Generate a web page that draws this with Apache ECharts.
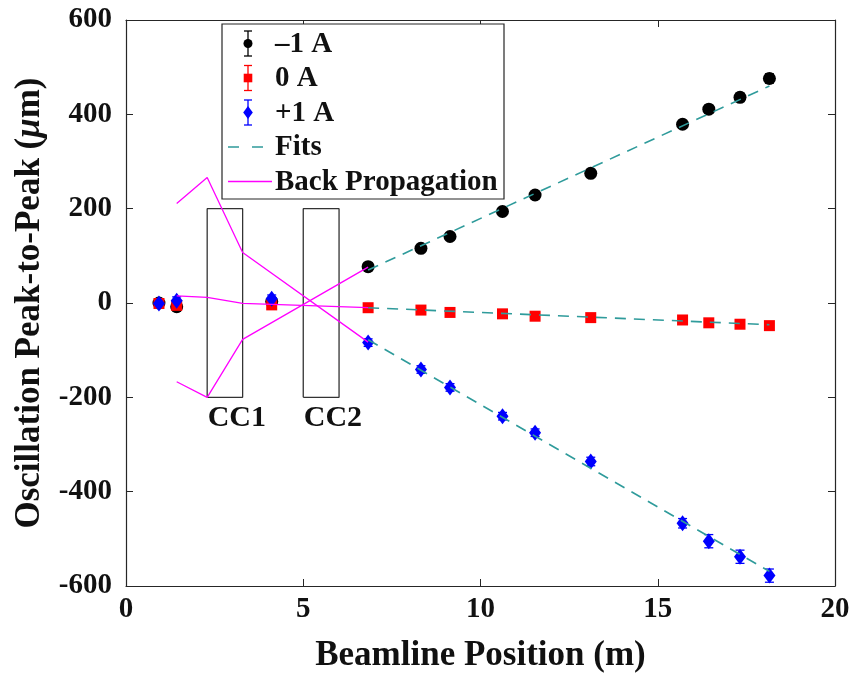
<!DOCTYPE html>
<html>
<head>
<meta charset="utf-8">
<script src="https://cdn.jsdelivr.net/npm/echarts@6/dist/echarts.min.js"></script>
<style>html,body{margin:0;padding:0;background:#fff;}#c{width:865px;height:674px;}</style>
</head>
<body>
<div id="c"></div>
<script>
// ---- data ----
const positions = [0.93, 1.43, 4.11, 6.83, 8.32, 9.14, 10.62, 11.54, 13.11, 15.70, 16.44, 17.32, 18.15];
const minus1 = [0, -8, 3, 77, 116, 141, 194, 229, 275, 379, 411, 436, 476];
const minus1Err = [5, 5, 5, 5, 5, 5, 5, 5, 5, 8, 8, 9, 10];
const zeroA = [-1, -5, -4, -10, -15, -20, -23, -28, -31, -36, -42, -45, -48];
const zeroErr = [3, 3, 3, 3, 3, 3, 3, 3, 3, 4, 4, 4, 4];
const plus1 = [-1, 5, 9, -84, -141, -179, -240, -275, -336, -467, -505, -538, -578];
const plus1Err = [5, 8, 8, 8, 8, 8, 8, 8, 9, 10, 14, 14, 14];

const fitX = [6.83, 18.15];
const fitMinus1 = [70, 460];
const fitZero = [-10, -46];
const fitPlus1 = [-78, -569];

const bpX = [1.43, 2.29, 3.29, 6.83];
const bpMinus1 = [-167, -200, -77, 76];
const bpZero = [15, 12, -1, -10];
const bpPlus1 = [211, 266, 107, -83];

const cc1X = [2.29, 3.29];
const cc2X = [5.0, 6.01];
const ccY = [-200, 200];
const ccLabels = ['CC1', 'CC2'];
const ccLabelY = -244;

const xTicks = { min: 0, max: 20, interval: 5 };
const yTicks = { min: -600, max: 600, interval: 200 };

const legendNames = ['\u20131 A', '0 A', '+1 A', 'Fits', 'Back Propagation'];
// ---- end data ----

const FONT = 'Liberation Serif';
const TEAL = '#2f9b9b';
const MAG = '#ff00ff';
const AX = '#262626';
const TXT = '#111111';

function pts(xs, ys) { return xs.map((x, i) => [x, ys[i]]); }
function errData(xs, ys, es) { return xs.map((x, i) => [x, ys[i], es[i]]); }
function rectPts(xr, yr) {
  return [[xr[0], yr[0]], [xr[1], yr[0]], [xr[1], yr[1]], [xr[0], yr[1]], [xr[0], yr[0]]];
}
function errSeries(data, color) {
  return {
    type: 'custom', data: data, encode: { x: 0, y: 1 }, z: 2, silent: true,
    renderItem: function (params, api) {
      const x = api.value(0), y = api.value(1), e = api.value(2);
      const top = api.coord([x, y + e]), bot = api.coord([x, y - e]);
      const w = 4.5;
      const st = { stroke: color, lineWidth: 1.3 };
      return {
        type: 'group', children: [
          { type: 'line', shape: { x1: top[0], y1: top[1], x2: bot[0], y2: bot[1] }, style: st },
          { type: 'line', shape: { x1: top[0] - w, y1: top[1], x2: top[0] + w, y2: top[1] }, style: st },
          { type: 'line', shape: { x1: bot[0] - w, y1: bot[1], x2: bot[0] + w, y2: bot[1] }, style: st }
        ]
      };
    }
  };
}
function scatter(data, symbol, size, color) {
  return { type: 'scatter', data: data, symbol: symbol, symbolSize: size, itemStyle: { color: color, opacity: 1 }, z: 3, silent: true };
}
function line(data, color, width, dash, z) {
  return {
    type: 'line', data: data, symbol: 'none', z: z || 4, silent: true,
    lineStyle: { color: color, width: width, type: dash || 'solid' }
  };
}

const chart = echarts.init(document.getElementById('c'), null, { renderer: 'canvas' });

const tickLabel = { fontSize: 29, fontWeight: 'bold', fontFamily: FONT, color: TXT };
const axisCommon = {
  axisLine: { show: true, onZero: false, lineStyle: { color: AX, width: 1.2 } },
  axisTick: { show: true, inside: true, length: 7, lineStyle: { color: AX, width: 1 } },
  splitLine: { show: false }
};

const option = {
  backgroundColor: '#fff',
  animation: false,
  textStyle: { fontFamily: FONT },
  grid: { left: 126, right: 30, top: 20, bottom: 88, containLabel: false, outerBoundsMode: 'none' },
  xAxis: [
    Object.assign({
      type: 'value', min: xTicks.min, max: xTicks.max, interval: xTicks.interval, position: 'bottom',
      axisLabel: Object.assign({ margin: 9 }, tickLabel),
      name: 'Beamline Position (m)', nameLocation: 'middle', nameGap: 52,
      nameTextStyle: { fontSize: 35, fontWeight: 'bold', fontFamily: FONT, color: TXT }
    }, axisCommon),
    Object.assign({
      type: 'value', min: xTicks.min, max: xTicks.max, interval: xTicks.interval, position: 'top',
      axisLabel: { show: false }
    }, axisCommon)
  ],
  yAxis: [
    Object.assign({
      type: 'value', min: yTicks.min, max: yTicks.max, interval: yTicks.interval, position: 'left',
      axisLabel: Object.assign({ margin: 14 }, tickLabel),
      name: '{a|Oscillation Peak-to-Peak (}{b|\u03bc}{a|m)}', nameLocation: 'middle', nameGap: 72,
      nameTextStyle: {
        fontSize: 35, fontWeight: 'bold', fontFamily: FONT, color: TXT,
        rich: {
          a: { fontSize: 35, fontWeight: 'bold', fontFamily: FONT, color: TXT },
          b: { fontSize: 35, fontWeight: 'bold', fontStyle: 'italic', fontFamily: FONT, color: TXT }
        }
      }
    }, axisCommon),
    Object.assign({
      type: 'value', min: yTicks.min, max: yTicks.max, interval: yTicks.interval, position: 'right',
      axisLabel: { show: false }
    }, axisCommon)
  ],
  series: [
    // CC boxes
    line(rectPts(cc1X, ccY), '#333333', 1.3, 'solid', 1),
    line(rectPts(cc2X, ccY), '#333333', 1.3, 'solid', 1),
    {
      type: 'scatter', symbolSize: 1, silent: true, z: 5,
      itemStyle: { color: '#ffffff', opacity: 0 },
      data: [[cc1X[0], ccLabelY, ccLabels[0]], [cc2X[0], ccLabelY, ccLabels[1]]],
      label: {
        show: true, position: 'right', distance: 0, opacity: 1,
        formatter: function (p) { return p.value[2]; },
        fontSize: 30, fontWeight: 'bold', fontFamily: FONT, color: TXT
      }
    },
    // error bars + markers
    errSeries(errData(positions, minus1, minus1Err), '#000000'),
    scatter(pts(positions, minus1), 'circle', 13, '#000000'),
    errSeries(errData(positions, zeroA, zeroErr), '#ff0000'),
    scatter(pts(positions, zeroA), 'rect', 11, '#ff0000'),
    errSeries(errData(positions, plus1, plus1Err), '#0000ff'),
    scatter(pts(positions, plus1), 'diamond', [12, 16], '#0000ff'),
    // fits
    line(pts(fitX, fitMinus1), TEAL, 1.6, [11, 8], 4),
    line(pts(fitX, fitZero), TEAL, 1.6, [11, 8], 4),
    line(pts(fitX, fitPlus1), TEAL, 1.6, [11, 8], 4),
    // back propagation
    line(pts(bpX, bpMinus1), MAG, 1.3, 'solid', 4),
    line(pts(bpX, bpZero), MAG, 1.3, 'solid', 4),
    line(pts(bpX, bpPlus1), MAG, 1.3, 'solid', 4)
  ],
  graphic: []
};

// legend box drawn with graphic elements
const lx = 222, ly = 24, lw = 282, lh = 175;
const rows = [43.5, 78, 112.5, 147, 181.5];
const ix = 248, tx = 275;
const g = [];
g.push({ type: 'rect', shape: { x: lx, y: ly, width: lw, height: lh }, style: { fill: '#fff', stroke: AX, lineWidth: 1.2 }, z: 100 });
function errIcon(cy, color) {
  const st = { stroke: color, lineWidth: 1.3 };
  g.push({ type: 'line', shape: { x1: ix, y1: cy - 12.5, x2: ix, y2: cy + 12.5 }, style: st, z: 101 });
  g.push({ type: 'line', shape: { x1: ix - 4, y1: cy - 12.5, x2: ix + 4, y2: cy - 12.5 }, style: st, z: 101 });
  g.push({ type: 'line', shape: { x1: ix - 4, y1: cy + 12.5, x2: ix + 4, y2: cy + 12.5 }, style: st, z: 101 });
}
errIcon(rows[0], '#000');
g.push({ type: 'circle', shape: { cx: ix, cy: rows[0], r: 4.5 }, style: { fill: '#000' }, z: 102 });
errIcon(rows[1], '#ff0000');
g.push({ type: 'rect', shape: { x: ix - 4.3, y: rows[1] - 4.3, width: 8.6, height: 8.6 }, style: { fill: '#ff0000' }, z: 102 });
errIcon(rows[2], '#0000ff');
g.push({ type: 'polygon', shape: { points: [[ix, rows[2] - 6.5], [ix + 4.8, rows[2]], [ix, rows[2] + 6.5], [ix - 4.8, rows[2]]] }, style: { fill: '#0000ff' }, z: 102 });
g.push({ type: 'line', shape: { x1: 228, y1: rows[3], x2: 266, y2: rows[3] }, style: { stroke: TEAL, lineWidth: 1.6, lineDash: [11, 13] }, z: 101 });
g.push({ type: 'line', shape: { x1: 228, y1: rows[4], x2: 272, y2: rows[4] }, style: { stroke: MAG, lineWidth: 1.3 }, z: 101 });
legendNames.forEach(function (n, i) {
  g.push({
    type: 'text', x: tx, y: rows[i] + 1, z: 102,
    style: { text: n, fontSize: 29, fontWeight: 'bold', fontFamily: FONT, fill: TXT, verticalAlign: 'middle', align: 'left' }
  });
});
option.graphic = g;

chart.setOption(option);
</script>
</body>
</html>
